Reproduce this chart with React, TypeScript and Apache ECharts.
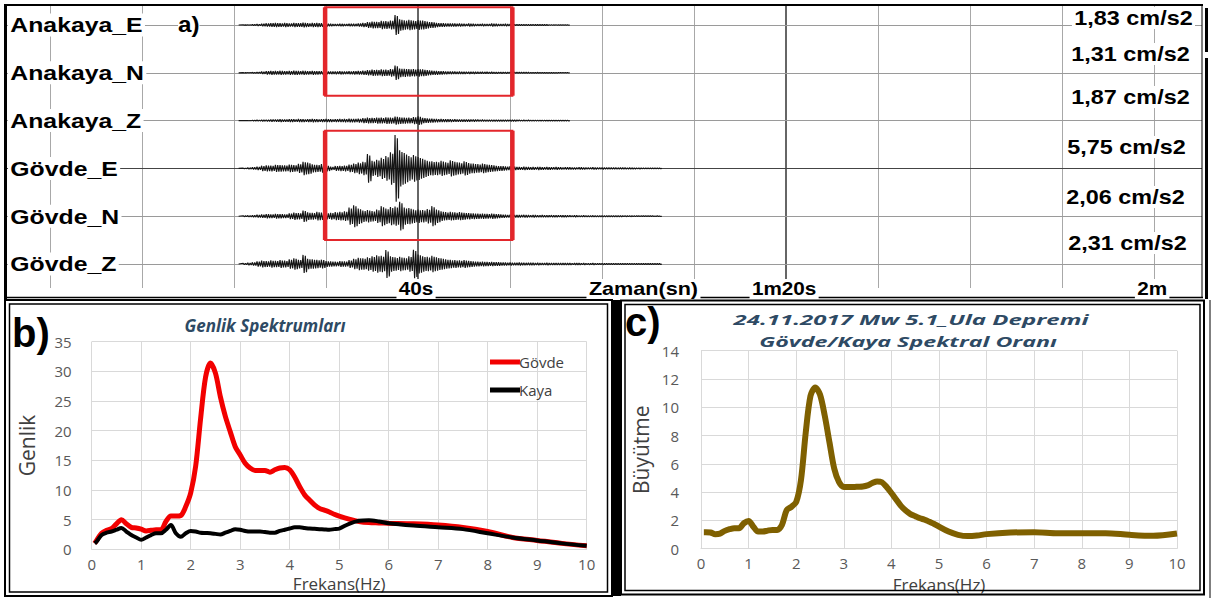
import React, { useEffect, useRef } from "react";
import * as echarts from "echarts";

// ---------- Panel b / c : spectra ----------
const FREQ = [0.06, 0.1, 0.2, 0.3, 0.4, 0.5, 0.6, 0.7, 0.8, 0.9, 1.0, 1.1, 1.2, 1.3, 1.4, 1.5, 1.6, 1.7, 1.8, 1.9, 2.0, 2.1, 2.2, 2.3, 2.4, 2.5, 2.6, 2.7, 2.8, 2.9, 3.0, 3.1, 3.2, 3.3, 3.4, 3.5, 3.6, 3.7, 3.8, 3.9, 4.0, 4.1, 4.2, 4.3, 4.4, 4.5, 4.6, 4.7, 4.8, 4.9, 5.0, 5.2, 5.4, 5.6, 5.8, 6.0, 6.5, 7.0, 7.5, 8.0, 8.5, 9.0, 9.5, 10];
const GOVDE_SPEC = [1.0, 1.5, 2.7, 3.2, 3.5, 4.3, 5.0, 4.3, 3.7, 3.6, 3.4, 3.1, 3.2, 3.3, 3.3, 4.7, 5.6, 5.6, 5.7, 7.2, 9.5, 14.0, 22.0, 29.0, 31.4, 29.7, 25.7, 22.4, 19.8, 17.3, 15.9, 14.5, 13.7, 13.3, 13.3, 13.3, 13.0, 13.4, 13.7, 13.8, 13.4, 12.2, 10.6, 9.2, 8.3, 7.5, 6.9, 6.6, 6.3, 5.9, 5.6, 5.1, 4.7, 4.5, 4.45, 4.4, 4.3, 4.1, 3.7, 3.0, 2.0, 1.5, 1.0, 0.6];
const KAYA_SPEC = [1.0, 1.3, 2.4, 2.8, 3.0, 3.3, 3.6, 3.0, 2.4, 2.0, 1.6, 2.0, 2.4, 2.7, 2.7, 3.3, 4.1, 2.7, 2.1, 2.7, 3.1, 3.0, 2.8, 2.75, 2.7, 2.6, 2.5, 2.8, 3.1, 3.4, 3.3, 3.1, 3.0, 3.0, 3.0, 2.9, 2.8, 2.8, 3.1, 3.3, 3.5, 3.7, 3.7, 3.6, 3.5, 3.45, 3.4, 3.35, 3.3, 3.4, 3.5, 4.3, 4.8, 4.9, 4.7, 4.4, 4.0, 3.7, 3.4, 2.7, 2.0, 1.5, 1.0, 0.6];
const ORAN = [1.17, 1.17, 1.15, 1.03, 1.07, 1.26, 1.38, 1.45, 1.45, 1.8, 1.96, 1.56, 1.21, 1.21, 1.28, 1.33, 1.33, 1.68, 2.73, 2.96, 3.3, 4.85, 8.2, 10.8, 11.4, 10.9, 9.4, 7.5, 5.65, 4.7, 4.36, 4.36, 4.36, 4.38, 4.4, 4.48, 4.64, 4.76, 4.7, 4.36, 3.94, 3.48, 3.03, 2.7, 2.45, 2.3, 2.15, 2.05, 1.9, 1.75, 1.56, 1.21, 0.98, 0.89, 0.93, 1.03, 1.14, 1.17, 1.1, 1.1, 1.1, 0.98, 0.91, 1.07];

// ---------- Panel a : accelerograms (envelope amplitude, cm/s2, every 0.5 s from 21 s) ----------
const T0 = 21;
const DT = 0.5;
const TRACE_NAMES = ["Anakaya_E", "Anakaya_N", "Anakaya_Z", "Gövde_E", "Gövde_N", "Gövde_Z"];
const PEAK_LABELS = ["1,83 cm/s2", "1,31 cm/s2", "1,87 cm/s2", "5,75 cm/s2", "2,06 cm/s2", "2,31 cm/s2"];
const AN_E = [
  0.02, 0.05, 0.10, 0.18, 0.28, 0.35, 0.40, 0.45, 0.38, 0.42,
  0.35, 0.45, 0.40, 0.50, 0.38, 0.42, 0.45, 0.36, 0.30, 0.25,
  0.22, 0.26, 0.20, 0.28, 0.26, 0.34, 0.45, 0.60, 0.72, 0.68,
  0.85, 0.80, 0.95, 2.10, 1.20, 1.00, 1.10, 0.90, 1.05, 0.90,
  0.70, 0.60, 0.45, 0.40, 0.35, 0.35, 0.30, 0.30, 0.25, 0.30,
  0.25, 0.20, 0.25, 0.22, 0.30, 0.25, 0.22, 0.25, 0.20, 0.15,
  0.15, 0.14, 0.12, 0.12, 0.10, 0.10, 0.09, 0.08, 0.08, 0.07, 0.06,
];
const AN_N = [
  0.03, 0.06, 0.10, 0.14, 0.25, 0.35, 0.40, 0.38, 0.42, 0.36,
  0.40, 0.45, 0.38, 0.42, 0.36, 0.40, 0.35, 0.32, 0.30, 0.28,
  0.30, 0.34, 0.28, 0.32, 0.35, 0.38, 0.45, 0.55, 0.65, 0.60,
  0.70, 0.65, 0.80, 1.50, 0.90, 0.85, 0.80, 0.75, 0.80, 0.70,
  0.55, 0.45, 0.40, 0.35, 0.30, 0.28, 0.26, 0.25, 0.24, 0.22,
  0.22, 0.20, 0.20, 0.18, 0.18, 0.16, 0.15, 0.15, 0.14, 0.13,
  0.12, 0.12, 0.11, 0.10, 0.10, 0.09, 0.08, 0.08, 0.07, 0.06, 0.06,
];
const AN_Z = [
  0.00, 0.03, 0.08, 0.12, 0.15, 0.18, 0.22, 0.25, 0.28, 0.25,
  0.30, 0.26, 0.32, 0.28, 0.30, 0.34, 0.28, 0.30, 0.32, 0.28,
  0.30, 0.32, 0.35, 0.38, 0.36, 0.40, 0.50, 0.60, 0.55, 0.65,
  0.60, 0.70, 0.65, 0.85, 0.70, 0.65, 0.60, 0.75, 0.90, 0.55,
  0.45, 0.40, 0.35, 0.32, 0.30, 0.28, 0.26, 0.25, 0.24, 0.22,
  0.22, 0.20, 0.20, 0.18, 0.18, 0.17, 0.16, 0.15, 0.15, 0.14,
  0.13, 0.12, 0.12, 0.11, 0.10, 0.10, 0.09, 0.09, 0.08, 0.08, 0.07,
];
const GV_E = [
  0.05, 0.15, 0.25, 0.35, 0.55, 0.65, 0.60, 0.75, 0.70, 0.65,
  0.80, 0.70, 0.95, 1.40, 1.20, 0.85, 0.75, 0.90, 0.60, 0.35,
  0.50, 0.55, 0.60, 0.80, 1.00, 1.20, 1.40, 3.00, 1.60, 1.80,
  2.20, 2.60, 3.40, 7.00, 3.80, 3.20, 2.60, 2.80, 2.40, 2.00,
  1.60, 1.50, 1.40, 1.60, 1.30, 1.70, 1.40, 1.20, 1.50, 1.10,
  1.00, 0.90, 1.00, 0.80, 0.70, 0.55, 0.50, 0.40, 0.45, 0.35,
  0.30, 0.35, 0.30, 0.28, 0.32, 0.26, 0.30, 0.25, 0.28, 0.22,
  0.25, 0.22, 0.20, 0.24, 0.20, 0.18, 0.22, 0.18, 0.20, 0.16,
  0.18, 0.15, 0.16, 0.14, 0.15, 0.12, 0.12, 0.10, 0.10, 0.08, 0.08,
];
const GV_N = [
  0.10, 0.15, 0.20, 0.30, 0.35, 0.45, 0.40, 0.50, 0.45, 0.40,
  0.60, 0.75, 0.65, 1.20, 0.80, 0.70, 0.90, 0.75, 0.65, 0.70,
  0.85, 0.90, 1.00, 1.80, 2.30, 1.60, 1.20, 1.30, 1.10, 1.40,
  2.10, 1.60, 1.90, 2.00, 3.00, 1.80, 1.70, 1.40, 1.40, 1.30,
  1.50, 2.10, 1.40, 1.00, 0.85, 0.90, 0.80, 0.85, 0.70, 0.65,
  0.60, 0.55, 0.55, 0.50, 0.55, 0.45, 0.35, 0.30, 0.32, 0.28,
  0.26, 0.28, 0.24, 0.25, 0.22, 0.24, 0.20, 0.22, 0.18, 0.20,
  0.18, 0.16, 0.18, 0.15, 0.16, 0.14, 0.15, 0.13, 0.14, 0.12,
  0.12, 0.12, 0.11, 0.10, 0.10, 0.09, 0.09, 0.08, 0.08, 0.07, 0.07,
];
const GV_Z = [
  0.15, 0.25, 0.35, 0.55, 0.70, 0.60, 0.75, 0.65, 0.80, 0.70,
  1.00, 1.20, 0.90, 1.90, 1.10, 1.00, 0.85, 0.90, 0.60, 0.55,
  0.50, 0.60, 0.55, 0.80, 1.10, 1.30, 1.20, 1.40, 1.60, 1.80,
  1.70, 2.90, 1.60, 1.40, 1.50, 1.30, 1.60, 3.00, 2.00, 1.60,
  1.50, 1.70, 1.40, 1.20, 1.00, 0.85, 0.80, 0.75, 0.80, 0.65,
  0.55, 0.50, 0.50, 0.45, 0.45, 0.40, 0.35, 0.30, 0.32, 0.28,
  0.30, 0.26, 0.28, 0.24, 0.25, 0.22, 0.24, 0.20, 0.22, 0.20,
  0.20, 0.18, 0.19, 0.17, 0.18, 0.16, 0.17, 0.15, 0.16, 0.14,
  0.15, 0.14, 0.14, 0.13, 0.13, 0.12, 0.12, 0.11, 0.11, 0.10, 0.10,
];
const TRACES = [AN_E, AN_N, AN_Z, GV_E, GV_N, GV_Z];
const TIME_GRID = [0, 10, 20, 30, 40, 50, 60, 70, 80, 90, 100, 110, 120];
const TIME_LABELS = [
  { t: 40, text: "40s" },
  { t: 80, text: "1m20s" },
  { t: 120, text: "2m" },
];
const AXIS_TITLE_T = 64.5; // "Zaman(sn)"
const WINDOW_T = [29.9, 50.25]; // analysed windows (s)

// ---------- layout ----------
const XMIN = -4.89;
const XMAX = 125.2;
const YMIN = -55.02;
const YMAX = 4.184;
const LANE_GAP = 10;
const GA = { left: 5, top: 5, width: 1197, height: 283 };
const xOf = (t: number) => GA.left + ((t - XMIN) / (XMAX - XMIN)) * GA.width;
const yOf = (v: number) => GA.top + ((YMAX - v) / (YMAX - YMIN)) * GA.height;

// each envelope sample is drawn as two oscillations of that amplitude
function traceData(env: number[], k: number) {
  const c = -LANE_GAP * k;
  const q = DT / 4;
  const pts: number[][] = [[T0 - DT, c]];
  env.forEach((a, i) => {
    const t = T0 + i * DT;
    pts.push([t, c + a], [t + q, c - a], [t + 2 * q, c + a * 0.9], [t + 3 * q, c - a * 0.9]);
  });
  pts.push([T0 + env.length * DT, c]);
  return pts;
}

const AF = "'Liberation Sans', Arial, sans-serif";
const CF = "'Open Sans', 'Noto Sans', sans-serif";

export default function App() {
  const ref = useRef<HTMLDivElement>(null);
  useEffect(() => {
    document.body.style.margin = "0";
    if (!ref.current) return;
    const chart = echarts.init(ref.current, null, { renderer: "svg" });

    const gridMark: any[] = TIME_GRID.map((v) => {
      const dark = v === 40 || v === 80;
      return {
        xAxis: v,
        lineStyle: { color: dark ? "#333" : "#a8a8a8", width: dark ? 1.5 : 1, type: "solid" },
      };
    });
    const laneMark: any[] = TRACES.map((_, k) => ({
      yAxis: -LANE_GAP * k,
      lineStyle: { color: k === 3 ? "#444" : "#9a9a9a", width: 1, type: "solid" },
    }));

    const traceSeries: any[] = TRACES.map((env, k) => ({
      type: "line",
      name: TRACE_NAMES[k],
      xAxisIndex: 0,
      yAxisIndex: 0,
      data: traceData(env, k),
      symbol: "none",
      silent: true,
      z: 3,
      lineStyle: { color: "#151515", width: 1.15 },
      ...(k === 0
        ? {
            markLine: {
              silent: true,
              symbol: ["none", "none"],
              z: 1,
              label: { show: false },
              data: [...gridMark, ...laneMark],
            },
          }
        : {}),
    }));

    const topBox = [WINDOW_T[0], WINDOW_T[1], (25 - 7.3) / 4.78, -(95.7 - 25) / 4.78];
    const botBox = [WINDOW_T[0], WINDOW_T[1], -(130.7 - 25) / 4.78, -(240 - 25) / 4.78];

    const boxSeries = {
      type: "custom",
      xAxisIndex: 0,
      yAxisIndex: 0,
      z: 6,
      silent: true,
      encode: { x: [0, 1], y: [2, 3] },
      data: [topBox, botBox],
      renderItem: (params: any, api: any) => {
        const p0 = api.coord([api.value(0), api.value(2)]);
        const p1 = api.coord([api.value(1), api.value(3)]);
        const red = "#e3262b";
        return {
          type: "group",
          children: [
            {
              type: "rect",
              shape: { x: p0[0], y: p0[1], width: p1[0] - p0[0], height: p1[1] - p0[1] },
              style: { fill: "none", stroke: red, lineWidth: 2 },
            },
            {
              type: "line",
              shape: { x1: p0[0], y1: p0[1], x2: p0[0], y2: p1[1] },
              style: { stroke: red, lineWidth: 4.5 },
            },
            {
              type: "line",
              shape: { x1: p1[0], y1: p0[1], x2: p1[0], y2: p1[1] },
              style: { stroke: red, lineWidth: 4.5 },
            },
          ],
        };
      },
    };

    const labelBox = (x: number, y: number, text: string, size: number, align: string, sx: number) => ({
      type: "text",
      x,
      y,
      scaleX: sx,
      z: 50,
      style: {
        text,
        fill: "#000",
        fontSize: size,
        fontWeight: "bold",
        fontFamily: AF,
        align,
        verticalAlign: "middle",
        backgroundColor: "#fff",
        padding: [1, 2, 1, 2],
      },
    });

    const peakY = [18, 54, 97, 147, 197, 243];
    const peakX = [1195, 1192, 1192, 1188, 1187, 1189];

    const blk = "#000";
    const graphic: any[] = [
      ...TRACE_NAMES.map((n, k) => labelBox(8, yOf(-LANE_GAP * k), n, 21, "left", 1.18)),
      {
        type: "text",
        x: 178,
        y: 24,
        scaleX: 1.1,
        z: 50,
        style: { text: "a)", fill: "#000", fontSize: 22, fontWeight: "bold", fontFamily: AF, align: "left", verticalAlign: "middle", backgroundColor: "#fff" },
      },
      ...PEAK_LABELS.map((s, k) => labelBox(peakX[k], peakY[k], s, 20, "right", 1.17)),
      ...TIME_LABELS.map((l) => labelBox(xOf(l.t) - 2, 289, l.text, 18, "center", 1.15)),
      labelBox(xOf(AXIS_TITLE_T), 289, "Zaman(sn)", 18, "center", 1.2),
      // panel a frame
      { type: "line", z: 60, shape: { x1: 5, y1: 5, x2: 1203, y2: 5 }, style: { stroke: blk, lineWidth: 2 } },
      { type: "line", z: 60, shape: { x1: 5.5, y1: 4, x2: 5.5, y2: 299 }, style: { stroke: blk, lineWidth: 3 } },
      { type: "line", z: 40, shape: { x1: 5, y1: 297.5, x2: 1203, y2: 297.5 }, style: { stroke: blk, lineWidth: 1.5 } },
      { type: "line", z: 60, shape: { x1: 1202, y1: 5, x2: 1202, y2: 298 }, style: { stroke: blk, lineWidth: 1 } },
      { type: "line", z: 60, shape: { x1: 1206.5, y1: 8, x2: 1206.5, y2: 52 }, style: { stroke: blk, lineWidth: 3 } },
      { type: "line", z: 60, shape: { x1: 1206.5, y1: 58, x2: 1206.5, y2: 299 }, style: { stroke: blk, lineWidth: 3 } },
      // panel b frame
      { type: "rect", z: 60, shape: { x: 5, y: 300, width: 607, height: 296 }, style: { fill: "none", stroke: blk, lineWidth: 2 } },
      { type: "rect", z: 60, shape: { x: 9.5, y: 304, width: 598, height: 288 }, style: { fill: "none", stroke: blk, lineWidth: 1.5 } },
      { type: "rect", z: 60, shape: { x: 611, y: 300, width: 10, height: 296 }, style: { fill: blk } },
      // panel c frame
      { type: "rect", z: 60, shape: { x: 621, y: 300.5, width: 583, height: 294 }, style: { fill: "none", stroke: blk, lineWidth: 2 } },
      { type: "rect", z: 60, shape: { x: 625, y: 304.5, width: 575, height: 286 }, style: { fill: "none", stroke: blk, lineWidth: 1.5 } },
      { type: "line", z: 60, shape: { x1: 1210, y1: 300, x2: 1210, y2: 598 }, style: { stroke: blk, lineWidth: 1 } },
      // panel letters and titles
      {
        type: "text", x: 12, y: 333, z: 55,
        style: { text: "b)", fill: "#000", fontSize: 40, fontWeight: "bold", fontFamily: AF, align: "left", verticalAlign: "middle" },
      },
      {
        type: "text", x: 625, y: 322, z: 55,
        style: { text: "c)", fill: "#000", fontSize: 40, fontWeight: "bold", fontFamily: AF, align: "left", verticalAlign: "middle" },
      },
      {
        type: "text", x: 265, y: 325, z: 55,
        style: { text: "Genlik Spektrumları", fill: "#2e4a64", fontSize: 17, fontWeight: "bold", fontStyle: "italic", fontFamily: CF, align: "center", verticalAlign: "middle" },
      },
      {
        type: "text", x: 911, y: 319, z: 55, scaleX: 1.6,
        style: { text: "24.11.2017 Mw 5.1_Ula Depremi", fill: "#2e4a64", fontSize: 15, fontWeight: "bold", fontStyle: "italic", fontFamily: CF, align: "center", verticalAlign: "middle" },
      },
      {
        type: "text", x: 908, y: 341, z: 55, scaleX: 1.55,
        style: { text: "Gövde/Kaya Spektral Oranı", fill: "#2e4a64", fontSize: 15, fontWeight: "bold", fontStyle: "italic", fontFamily: CF, align: "center", verticalAlign: "middle" },
      },
    ];

    const tickLabel = { color: "#595959", fontSize: 15, fontFamily: CF };
    const gridLine = { lineStyle: { color: "#d9d9d9", width: 1 } };

    chart.setOption({
      animation: false,
      backgroundColor: "#fff",
      grid: [
        { ...GA, containLabel: false },
        { left: 91.7, top: 341.7, width: 495, height: 207.6 },
        { left: 701, top: 350.7, width: 476, height: 198 },
      ],
      legend: {
        data: ["Gövde", "Kaya"],
        orient: "vertical",
        left: 485,
        top: 349,
        icon: "rect",
        itemWidth: 30,
        itemHeight: 5,
        itemGap: 12,
        textStyle: { color: "#404040", fontSize: 15, fontFamily: CF, lineHeight: 16, padding: [0, 0, 0, -6] },
      },
      xAxis: [
        { gridIndex: 0, type: "value", min: XMIN, max: XMAX, show: false },
        {
          gridIndex: 1, type: "value", min: 0, max: 10, interval: 1,
          axisLine: { lineStyle: { color: "#d9d9d9" } }, axisTick: { show: false },
          splitLine: gridLine, axisLabel: { ...tickLabel, margin: 7 },
          name: "Frekans(Hz)", nameLocation: "middle", nameGap: 26,
          nameTextStyle: { color: "#404040", fontSize: 17, fontFamily: CF },
        },
        {
          gridIndex: 2, type: "value", min: 0, max: 10, interval: 1,
          axisLine: { lineStyle: { color: "#d9d9d9" } }, axisTick: { show: false },
          splitLine: gridLine, axisLabel: { ...tickLabel, margin: 7 },
          name: "Frekans(Hz)", nameLocation: "middle", nameGap: 27,
          nameTextStyle: { color: "#404040", fontSize: 17, fontFamily: CF },
        },
      ],
      yAxis: [
        { gridIndex: 0, type: "value", min: YMIN, max: YMAX, show: false },
        {
          gridIndex: 1, type: "value", min: 0, max: 35, interval: 5,
          axisLine: { show: false }, axisTick: { show: false },
          splitLine: gridLine, axisLabel: { ...tickLabel, margin: 20 },
          name: "Genlik", nameLocation: "middle", nameGap: 54,
          nameTextStyle: { color: "#404040", fontSize: 21, fontFamily: CF },
        },
        {
          gridIndex: 2, type: "value", min: 0, max: 14, interval: 2,
          axisLine: { show: false }, axisTick: { show: false },
          splitLine: gridLine, axisLabel: { ...tickLabel, margin: 22 },
          name: "Büyütme", nameLocation: "middle", nameGap: 50,
          nameTextStyle: { color: "#404040", fontSize: 21, fontFamily: CF },
        },
      ],
      series: [
        ...traceSeries,
        boxSeries,
        {
          type: "line", name: "Gövde", xAxisIndex: 1, yAxisIndex: 1,
          data: FREQ.map((f, i) => [f, GOVDE_SPEC[i]]),
          smooth: 0.3, symbol: "none", z: 3,
          lineStyle: { color: "#f20000", width: 5 }, itemStyle: { color: "#f20000" },
        },
        {
          type: "line", name: "Kaya", xAxisIndex: 1, yAxisIndex: 1,
          data: FREQ.map((f, i) => [f, KAYA_SPEC[i]]),
          smooth: 0.3, symbol: "none", z: 4,
          lineStyle: { color: "#000", width: 4 }, itemStyle: { color: "#000" },
        },
        {
          type: "line", name: "Oran", xAxisIndex: 2, yAxisIndex: 2,
          data: FREQ.map((f, i) => [f, ORAN[i]]),
          smooth: 0.3, symbol: "none", z: 3,
          lineStyle: { color: "#7f6000", width: 6 }, itemStyle: { color: "#7f6000" },
        },
      ],
      graphic,
    });
    return () => chart.dispose();
  }, []);
  return <div ref={ref} style={{ width: 1219, height: 598 }} />;
}
